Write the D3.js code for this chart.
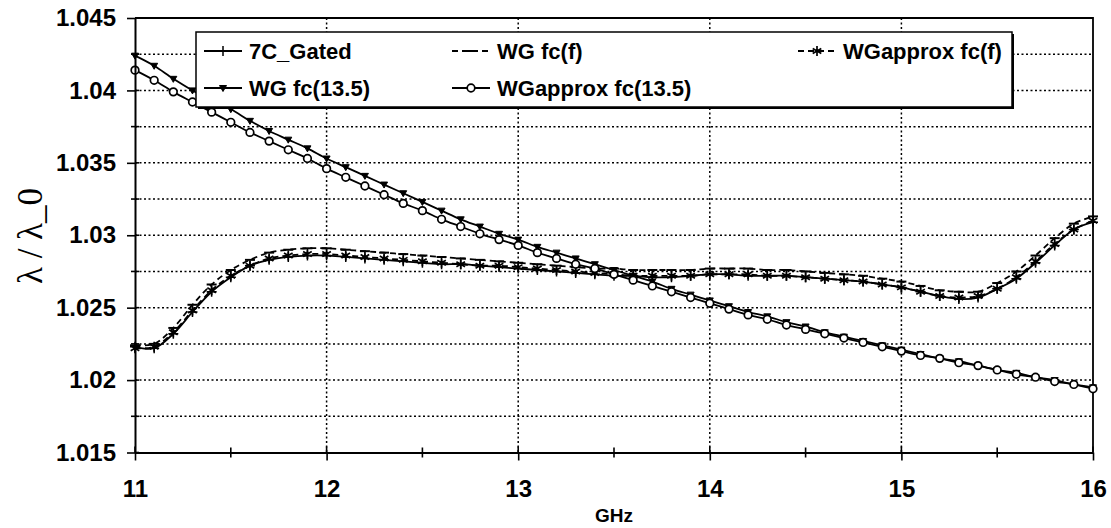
<!DOCTYPE html>
<html>
<head>
<meta charset="utf-8">
<script src="https://cdn.jsdelivr.net/npm/d3@7"></script>
<style>
  body { margin: 0; background: #fff; }
  svg { display: block; }
</style>
</head>
<body>
<svg id="chart" width="1111" height="528"></svg>
<script>
// Frequency grid (GHz)
const freq = [
  11.0, 11.1, 11.2, 11.3, 11.4, 11.5, 11.6, 11.7, 11.8, 11.9,
  12.0, 12.1, 12.2, 12.3, 12.4, 12.5, 12.6, 12.7, 12.8, 12.9,
  13.0, 13.1, 13.2, 13.3, 13.4, 13.5, 13.6, 13.7, 13.8, 13.9,
  14.0, 14.1, 14.2, 14.3, 14.4, 14.5, 14.6, 14.7, 14.8, 14.9,
  15.0, 15.1, 15.2, 15.3, 15.4, 15.5, 15.6, 15.7, 15.8, 15.9,
  16.0
];

// Measured wavelength ratio, time-gated
const gated7C = [
  1.0223, 1.0222, 1.0232, 1.0247, 1.0261, 1.0271, 1.0279, 1.0283, 1.0285, 1.0286,
  1.0286, 1.0285, 1.0284, 1.0283, 1.0282, 1.0281, 1.0280, 1.0280, 1.0279, 1.0278,
  1.0277, 1.0276, 1.0275, 1.0274, 1.0273, 1.0272, 1.0272, 1.0271, 1.0271, 1.0272,
  1.0273, 1.0273, 1.0272, 1.0272, 1.0272, 1.0271, 1.0270, 1.0269, 1.0268, 1.0266,
  1.0264, 1.0261, 1.0258, 1.0256, 1.0257, 1.0263, 1.0270, 1.0281, 1.0293, 1.0304,
  1.0309
];

// Waveguide model, frequency-dependent cutoff
const wgFcF = [
  1.0224, 1.0225, 1.0236, 1.0252, 1.0266, 1.0276, 1.0283, 1.0288, 1.0290, 1.0291,
  1.0291, 1.0290, 1.0289, 1.0288, 1.0287, 1.0286, 1.0285, 1.0284, 1.0283, 1.0282,
  1.0281, 1.0280, 1.0279, 1.0278, 1.0277, 1.0277, 1.0276, 1.0276, 1.0276, 1.0276,
  1.0277, 1.0277, 1.0277, 1.0276, 1.0276, 1.0275, 1.0274, 1.0273, 1.0272, 1.0270,
  1.0268, 1.0265, 1.0262, 1.0261, 1.0261, 1.0267, 1.0275, 1.0286, 1.0298, 1.0308,
  1.0313
];

// Approximate waveguide model, frequency-dependent cutoff
const wgApproxFcF = [
  1.0222, 1.0223, 1.0233, 1.0248, 1.0262, 1.0272, 1.0279, 1.0284, 1.0286, 1.0287,
  1.0287, 1.0286, 1.0285, 1.0284, 1.0283, 1.0282, 1.0281, 1.0280, 1.0279, 1.0279,
  1.0278, 1.0277, 1.0276, 1.0275, 1.0274, 1.0273, 1.0272, 1.0272, 1.0272, 1.0272,
  1.0273, 1.0273, 1.0273, 1.0272, 1.0272, 1.0271, 1.0270, 1.0269, 1.0268, 1.0266,
  1.0264, 1.0261, 1.0258, 1.0257, 1.0258, 1.0263, 1.0271, 1.0282, 1.0294, 1.0304,
  1.0310
];

// Waveguide model, fixed cutoff at 13.5 GHz
const wgFc135 = [
  1.0424, 1.0417, 1.0408, 1.0400, 1.0393, 1.0387, 1.0379, 1.0372, 1.0366, 1.0360,
  1.0353, 1.0347, 1.0341, 1.0335, 1.0329, 1.0323, 1.0317, 1.0311, 1.0306, 1.0301,
  1.0297, 1.0292, 1.0288, 1.0284, 1.0280, 1.0276, 1.0272, 1.0268, 1.0263, 1.0259,
  1.0255, 1.0251, 1.0247, 1.0244, 1.0240, 1.0237, 1.0233, 1.0230, 1.0227, 1.0224,
  1.0221, 1.0218, 1.0215, 1.0213, 1.0210, 1.0207, 1.0205, 1.0202, 1.0200, 1.0197,
  1.0195
];

// Approximate waveguide model, fixed cutoff at 13.5 GHz
const wgApproxFc135 = [
  1.0414, 1.0407, 1.0399, 1.0392, 1.0385, 1.0378, 1.0371, 1.0365, 1.0359, 1.0353,
  1.0346, 1.0340, 1.0334, 1.0328, 1.0322, 1.0317, 1.0311, 1.0306, 1.0301, 1.0297,
  1.0293, 1.0288, 1.0284, 1.0280, 1.0277, 1.0273, 1.0269, 1.0265, 1.0261, 1.0257,
  1.0253, 1.0249, 1.0245, 1.0242, 1.0238, 1.0235, 1.0232, 1.0229, 1.0226, 1.0223,
  1.0220, 1.0217, 1.0215, 1.0212, 1.0210, 1.0207, 1.0204, 1.0202, 1.0199, 1.0197,
  1.0194
];

const xTicks = [11, 12, 13, 14, 15, 16];
const xMinorTicks = [11.5, 12.5, 13.5, 14.5, 15.5];
const yTicks = [1.015, 1.02, 1.025, 1.03, 1.035, 1.04, 1.045];
const yGrid = [1.0175, 1.02, 1.0225, 1.025, 1.0275, 1.03, 1.0325, 1.035, 1.0375, 1.04, 1.0425];
const xGrid = [12, 13, 14, 15];

const seriesNames = ["7C_Gated", "WG fc(f)", "WGapprox fc(f)", "WG fc(13.5)", "WGapprox fc(13.5)"];

// Drawing styles per series
const series = [
  { name: seriesNames[0], values: gated7C,       dash: null,  marker: "plus" },
  { name: seriesNames[1], values: wgFcF,         dash: "6,4", marker: "dash" },
  { name: seriesNames[2], values: wgApproxFcF,   dash: "6,4", marker: "star" },
  { name: seriesNames[3], values: wgFc135,       dash: null,  marker: "tri" },
  { name: seriesNames[4], values: wgApproxFc135, dash: null,  marker: "circle" }
];

const plot = { left: 135, right: 1093, top: 18, bottom: 452.5 };

const svg = d3.select("#chart");
const x = d3.scaleLinear().domain([11, 16]).range([plot.left, plot.right]);
const y = d3.scaleLinear().domain([1.015, 1.045]).range([plot.bottom, plot.top]);

const FONT = "'Liberation Sans', Arial, Helvetica, sans-serif";

// Dotted grid
const grid = svg.append("g").attr("stroke", "#000").attr("stroke-width", 1.5)
  .attr("stroke-dasharray", "2,2.5");
grid.selectAll("line.h").data(yGrid).join("line").attr("class", "h")
  .attr("x1", plot.left).attr("x2", plot.right)
  .attr("y1", d => y(d)).attr("y2", d => y(d));
grid.selectAll("line.v").data(xGrid).join("line").attr("class", "v")
  .attr("y1", plot.top).attr("y2", plot.bottom)
  .attr("x1", d => x(d)).attr("x2", d => x(d));

// Plot frame (top and right edges)
svg.append("path")
  .attr("d", `M${plot.left},${plot.top}H${plot.right}V${plot.bottom}`)
  .attr("fill", "none").attr("stroke", "#000").attr("stroke-width", 1.8);

// Series lines
const lineGen = d3.line()
  .x((d, i) => x(freq[i]))
  .y(d => y(d))
  .curve(d3.curveCatmullRom.alpha(0.5));

const linesG = svg.append("g");
series.forEach(s => {
  linesG.append("path")
    .datum(s.values)
    .attr("d", lineGen)
    .attr("fill", "none")
    .attr("stroke", "#000")
    .attr("stroke-width", 1.8)
    .attr("stroke-dasharray", s.dash);
});

// Marker painter
function drawMarker(g, type, cx, cy) {
  switch (type) {
    case "plus":
      g.append("path").attr("d", `M${cx - 5},${cy}H${cx + 5}M${cx},${cy - 5}V${cy + 5}`)
        .attr("stroke", "#000").attr("stroke-width", 1.5);
      break;
    case "dash":
      g.append("path").attr("d", `M${cx - 5},${cy}H${cx + 5}`)
        .attr("stroke", "#000").attr("stroke-width", 2);
      break;
    case "star":
      g.append("path").attr("d",
        `M${cx},${cy - 5}V${cy + 5}M${cx - 4.3},${cy - 2.5}L${cx + 4.3},${cy + 2.5}M${cx - 4.3},${cy + 2.5}L${cx + 4.3},${cy - 2.5}`)
        .attr("stroke", "#000").attr("stroke-width", 1.7);
      break;
    case "tri":
      g.append("path").attr("d", `M${cx - 3.5},${cy - 2.5}L${cx + 3.5},${cy - 2.5}L${cx},${cy + 3.5}Z`)
        .attr("fill", "#000").attr("stroke", "#000").attr("stroke-width", 1);
      break;
    case "circle":
      g.append("circle").attr("cx", cx).attr("cy", cy).attr("r", 3.8)
        .attr("fill", "#fff").attr("stroke", "#000").attr("stroke-width", 1.7);
      break;
  }
}

const markersG = svg.append("g");
series.forEach(s => {
  s.values.forEach((v, i) => drawMarker(markersG, s.marker, x(freq[i]), y(v)));
});

// Axes
const yAxis = d3.axisLeft(y).tickValues(yTicks).tickFormat(d3.format(".3~f"))
  .tickSizeInner(8).tickSizeOuter(0).tickPadding(11);
const yAxisG = svg.append("g").attr("transform", `translate(${plot.left},0)`).call(yAxis);

const xAxis = d3.axisBottom(x).tickValues(xTicks).tickFormat(d3.format("d"))
  .tickSizeInner(8).tickSizeOuter(0).tickPadding(19);
const xAxisG = svg.append("g").attr("transform", `translate(0,${plot.bottom})`).call(xAxis);

[yAxisG, xAxisG].forEach(g => {
  g.select(".domain").attr("stroke", "#000").attr("stroke-width", 2);
  g.selectAll(".tick line").attr("stroke", "#000").attr("stroke-width", 1.6);
  g.selectAll(".tick text")
    .attr("fill", "#000")
    .style("font-family", FONT)
    .style("font-size", "24px")
    .style("font-weight", "bold");
});

// Inner parts of the ticks plus minor ticks
const tickG = svg.append("g").attr("stroke", "#000").attr("stroke-width", 1.6);
tickG.selectAll("line.yi").data(yTicks).join("line")
  .attr("x1", plot.left).attr("x2", plot.left + 4)
  .attr("y1", d => y(d)).attr("y2", d => y(d));
tickG.selectAll("line.ym").data(yGrid.filter(v => !yTicks.includes(v))).join("line")
  .attr("x1", plot.left - 4).attr("x2", plot.left + 4)
  .attr("y1", d => y(d)).attr("y2", d => y(d));
tickG.selectAll("line.xi").data(xTicks).join("line")
  .attr("x1", d => x(d)).attr("x2", d => x(d))
  .attr("y1", plot.bottom).attr("y2", plot.bottom - 6);
tickG.selectAll("line.xm").data(xMinorTicks).join("line")
  .attr("x1", d => x(d)).attr("x2", d => x(d))
  .attr("y1", plot.bottom - 5).attr("y2", plot.bottom + 5);

// Axis titles
svg.append("text")
  .attr("transform", `translate(42,236) rotate(-90)`)
  .attr("text-anchor", "middle")
  .style("font-family", "'Liberation Serif', 'Times New Roman', serif")
  .style("font-size", "35px")
  .text("λ / λ_0");

svg.append("text")
  .attr("x", x(13.5)).attr("y", 522)
  .attr("text-anchor", "middle")
  .style("font-family", FONT)
  .style("font-size", "19px")
  .style("font-weight", "bold")
  .text("GHz");

// Legend
const legend = { x: 196, y: 32, w: 816, h: 75 };
const lg = svg.append("g");
lg.append("rect")
  .attr("x", legend.x + 2).attr("y", legend.y + 2)
  .attr("width", legend.w).attr("height", legend.h)
  .attr("fill", "#000");
lg.append("rect")
  .attr("x", legend.x).attr("y", legend.y)
  .attr("width", legend.w).attr("height", legend.h)
  .attr("fill", "#fff").attr("stroke", "#000").attr("stroke-width", 1.5);

const legendPos = [
  { col: 0, row: 0 }, { col: 1, row: 0 }, { col: 2, row: 0 },
  { col: 0, row: 1 }, { col: 1, row: 1 }
];
const colX = [204, 452, 798];
const rowY = [51, 88];
series.forEach((s, i) => {
  const p = legendPos[i];
  const x0 = colX[p.col], yy = rowY[p.row];
  lg.append("line")
    .attr("x1", x0).attr("x2", x0 + 38)
    .attr("y1", yy).attr("y2", yy)
    .attr("stroke", "#000").attr("stroke-width", 1.8)
    .attr("stroke-dasharray", s.dash);
  drawMarker(lg, s.marker, x0 + 19, yy);
  lg.append("text")
    .attr("x", x0 + 45).attr("y", yy)
    .attr("dy", "0.36em")
    .style("font-family", FONT)
    .style("font-size", "22px")
    .style("font-weight", "bold")
    .text(s.name);
});
</script>
</body>
</html>
